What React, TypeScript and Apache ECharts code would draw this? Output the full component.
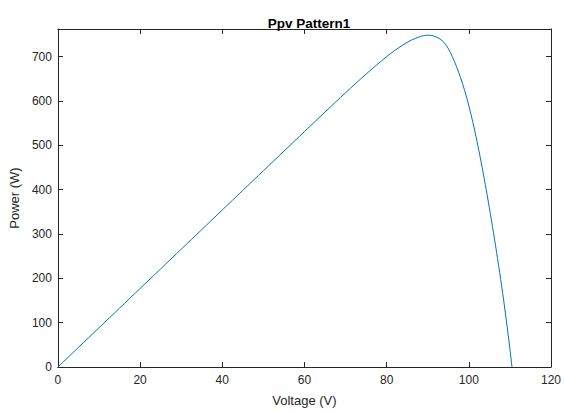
import React, { useEffect, useRef } from "react";
import * as echarts from "echarts";

const voltage = [0, 5, 10, 15, 20, 25, 30, 35, 40, 45, 50, 55, 60, 65, 70, 75, 80, 82, 84, 86, 88, 89, 90, 91, 92, 93, 94, 95, 96, 97, 98, 99, 100, 101, 102, 103, 104, 105, 106, 107, 108, 109, 110, 110.5];
const power = [0, 44.2, 88.5, 132.7, 177, 221.2, 265.5, 309.7, 354, 398.2, 442.4, 486.6, 530.7, 574.7, 618.2, 660.4, 699.7, 713.8, 726.3, 736.8, 744.5, 746.9, 748.0, 747.2, 744.4, 739.4, 731.5, 718.0, 699.5, 677.5, 652.0, 623.0, 589.0, 551.0, 508.4, 462.0, 412.0, 359.0, 303.0, 244.2, 182.0, 114.6, 41.0, 0];
const xTicks = [0, 20, 40, 60, 80, 100, 120];
const yTicks = [0, 100, 200, 300, 400, 500, 600, 700];

const FONT = "'Liberation Sans', Arial, Helvetica, sans-serif";
const AX = "#262626";

export default function App() {
  const ref = useRef<HTMLDivElement>(null);
  useEffect(() => {
    if (!ref.current) return;
    const chart = echarts.init(ref.current, null, { renderer: "svg" });
    const data = voltage.map((v, i) => [v, power[i]]);
    const axisCommon = {
      axisLine: { show: true, onZero: false, lineStyle: { color: AX, width: 1 } },
      axisTick: { show: true, inside: true, length: 5, lineStyle: { color: AX } },
      splitLine: { show: false },
    };
    chart.setOption({
      animation: false,
      backgroundColor: "#ffffff",
      title: {
        text: "Ppv Pattern1",
        left: 304,
        top: 11,
        textAlign: "center",
        textStyle: { fontFamily: FONT, fontSize: 13.5, fontWeight: "bold", color: "#000" },
      },
      grid: { left: 56, right: 12, top: 29, bottom: 40, containLabel: false },
      xAxis: [
        {
          type: "value",
          min: 0,
          max: 120,
          interval: 20,
          name: "Voltage (V)",
          nameLocation: "middle",
          nameGap: 27,
          nameTextStyle: { fontFamily: FONT, fontSize: 13, color: AX },
          axisLabel: {
            fontFamily: FONT,
            fontSize: 12,
            color: AX,
            margin: 7,
            formatter: (v: number) => (xTicks.includes(v) ? String(v) : ""),
          },
          ...axisCommon,
        },
        {
          type: "value",
          position: "top",
          min: 0,
          max: 120,
          interval: 20,
          axisLabel: { show: false },
          ...axisCommon,
        },
      ],
      yAxis: [
        {
          type: "value",
          min: 0,
          max: 762,
          interval: 100,
          name: "Power (W)",
          nameLocation: "middle",
          nameGap: 33,
          nameTextStyle: { fontFamily: FONT, fontSize: 13, color: AX },
          axisLabel: {
            fontFamily: FONT,
            fontSize: 12,
            color: AX,
            margin: 6,
            showMaxLabel: false,
            formatter: (v: number) => (yTicks.includes(v) ? String(v) : ""),
          },
          ...axisCommon,
        },
        {
          type: "value",
          position: "right",
          min: 0,
          max: 762,
          interval: 100,
          axisLabel: { show: false },
          ...axisCommon,
        },
      ],
      series: [
        {
          type: "line",
          data,
          showSymbol: false,
          smooth: 0.3,
          lineStyle: { color: "#0072BD", width: 1 },
          xAxisIndex: 0,
          yAxisIndex: 0,
        },
      ],
    });
    return () => chart.dispose();
  }, []);
  return (
    <div
      ref={ref}
      style={{ position: "fixed", left: 0, top: 0, width: 564, height: 412, background: "#fff" }}
    />
  );
}
